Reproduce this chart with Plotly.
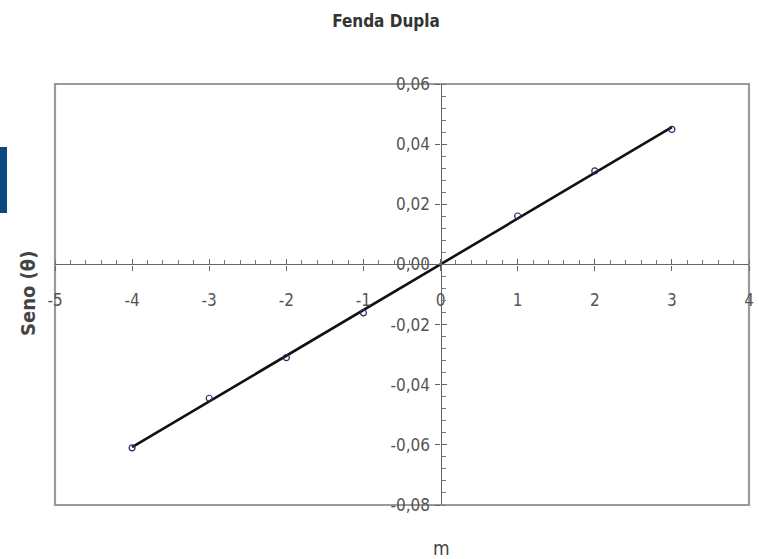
import numpy as np
import plotly.graph_objects as go

# Data
m_values = [-4, -3, -2, -1, 1, 2, 3]
seno_values = [-0.0610, -0.0445, -0.0310, -0.0161, 0.0161, 0.0311, 0.0449]
x_ticks = [-5, -4, -3, -2, -1, 0, 1, 2, 3, 4]
y_ticks = [-0.08, -0.06, -0.04, -0.02, 0.00, 0.02, 0.04, 0.06]
x_ticklabels = [str(v) for v in x_ticks]
y_ticklabels = [f"{v:.2f}".replace(".", ",") for v in y_ticks]

title_text = "Fenda Dupla"
x_title = "m"
y_title = "Seno (θ)"

FONT = "DejaVu Sans Condensed, Liberation Sans Narrow, Arial Narrow, sans-serif"
W, H = 759, 559
L, R, T, B = 55, 10, 84, 54

xr = [-5, 4]
yr = [-0.08, 0.06]

# linear trendline fitted to the data
slope, intercept = np.polyfit(m_values, seno_values, 1)
fit_x = [min(m_values), max(m_values)]
fit_y = [slope * v + intercept for v in fit_x]

fig = go.Figure()
fig.add_trace(go.Scatter(
    x=fit_x, y=fit_y, mode="lines",
    line=dict(color="#111111", width=2.6), showlegend=False, hoverinfo="skip"))
fig.add_trace(go.Scatter(
    x=m_values, y=seno_values, mode="markers",
    marker=dict(symbol="circle-open", size=6, color="#2b2b6b", line=dict(width=1.2)),
    showlegend=False))

xpos = (0 - yr[0]) / (yr[1] - yr[0])
ypos = (0 - xr[0]) / (xr[1] - xr[0])

axis_common = dict(showgrid=False, zeroline=False, automargin=False)

fig.update_layout(
    width=W, height=H,
    margin=dict(l=L, r=R, t=T, b=B),
    paper_bgcolor="white", plot_bgcolor="white",
    font=dict(family=FONT, size=17, color="#555555"),
    xaxis=dict(
        range=xr, tickvals=x_ticks, ticktext=x_ticklabels,
        anchor="free", position=xpos,
        showline=True, linecolor="#666666", linewidth=1.4,
        ticks="outside", ticklen=5, tickwidth=1.2, tickcolor="#666666",
        minor=dict(dtick=0.2, ticks="inside", ticklen=4, tickcolor="#777777", tickwidth=1),
        ticklabelstandoff=15,
        tickfont=dict(family=FONT, size=17, color="#555555"),
        **axis_common,
    ),
    xaxis2=dict(
        range=xr, tickvals=x_ticks, showticklabels=False,
        overlaying="x", anchor="free", position=xpos,
        showline=False, ticks="inside", ticklen=5, tickwidth=1.2, tickcolor="#666666",
        **axis_common,
    ),
    yaxis=dict(
        range=yr, tickvals=y_ticks, ticktext=y_ticklabels,
        anchor="free", position=ypos,
        showline=True, linecolor="#666666", linewidth=1.4,
        ticks="outside", ticklen=5, tickwidth=1.2, tickcolor="#666666",
        minor=dict(dtick=0.004, ticks="inside", ticklen=4, tickcolor="#777777", tickwidth=1),
        ticklabelstandoff=2,
        tickfont=dict(family=FONT, size=17, color="#555555"),
        **axis_common,
    ),
    yaxis2=dict(
        range=yr, tickvals=y_ticks, showticklabels=False,
        overlaying="y", anchor="free", position=ypos,
        showline=False, ticks="inside", ticklen=5, tickwidth=1.2, tickcolor="#666666",
        **axis_common,
    ),
    title=dict(text="<b>" + title_text + "</b>", x=386 / W, xanchor="center",
               y=1 - 21 / H, yanchor="middle", yref="container",
               font=dict(family=FONT, size=17, color="#333333")),
    shapes=[
        dict(type="rect", xref="x domain", yref="y domain", x0=0, x1=1, y0=0, y1=1,
             line=dict(color="#9a9a9a", width=2.2), layer="below"),
        dict(type="rect", xref="paper", yref="paper",
             x0=-L / (W - L - R), x1=(7 - L) / (W - L - R),
             y0=(H - B - 213) / (H - T - B), y1=(H - B - 147) / (H - T - B),
             line=dict(width=0), fillcolor="#0b4a7f"),
    ],
    annotations=[
        dict(text=x_title, xref="paper", yref="paper",
             x=(441 - L) / (W - L - R), y=(H - B - 548) / (H - T - B),
             showarrow=False, xanchor="center", yanchor="middle",
             font=dict(family=FONT, size=19, color="#444444")),
        dict(text="<b>" + y_title + "</b>", xref="paper", yref="paper",
             x=(28 - L) / (W - L - R), y=(H - B - 294) / (H - T - B),
             showarrow=False, textangle=-90, xanchor="center", yanchor="middle",
             font=dict(family=FONT, size=20, color="#444444")),
    ],
)

# invisible trace to activate overlay axes
fig.add_trace(go.Scatter(x=[None], y=[None], xaxis="x2", yaxis="y2",
                         showlegend=False, hoverinfo="skip"))

fig.write_html("out.html")
